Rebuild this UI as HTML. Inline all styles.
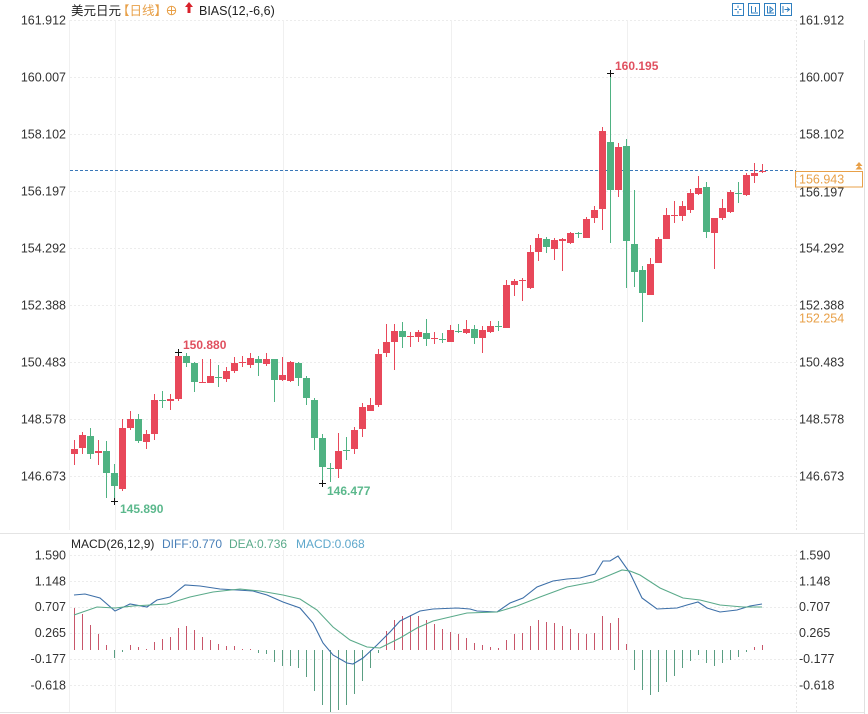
<!DOCTYPE html>
<html><head><meta charset="utf-8"><style>
html,body{margin:0;padding:0;background:#fff;}
svg{display:block;font-family:"Liberation Sans","Noto Sans CJK SC",sans-serif;}
</style></head><body>
<svg width="868" height="714" viewBox="0 0 868 714" xmlns="http://www.w3.org/2000/svg">
<rect width="868" height="714" fill="#fff"/>
<!-- grid -->
<g stroke="#ececec" stroke-width="1" stroke-dasharray="2,2" fill="none">
<path d="M70 20.5H796M70 77.5H796M70 134.5H796M70 191.5H796M70 248.5H796M70 305.5H796M70 362.5H796M70 419.5H796M70 476.5H796"/>
<path d="M70 555.5H796M70 581.5H796M70 607.5H796M70 633.5H796M70 659.5H796M70 685.5H796"/>
</g>
<g stroke="#f0f0f0" stroke-width="1" fill="none">
<path d="M69.5 20V530M115.5 20V530M283.5 20V530M451.5 20V530M627.5 20V530"/>
<path d="M69.5 550V712M115.5 550V712M283.5 550V712M451.5 550V712M627.5 550V712"/>
</g>
<path d="M796.5 20V530M796.5 550V712" stroke="#e6e6e6" stroke-dasharray="2,2"/>
<path d="M0 533.5H864M0 712.5H864" stroke="#e4e4e4"/>
<path d="M864.5 40V714" stroke="#e0e0e0"/>

<!-- header -->
<text x="71" y="15" font-size="12.5" fill="#222">美元日元</text>
<text x="117" y="15" font-size="12.5" fill="#e8a048">【日线】</text>
<circle cx="171.5" cy="10.5" r="4.2" fill="none" stroke="#e8a048" stroke-width="1"/>
<path d="M167.3 10.5H175.7M171.5 6.3V14.7" stroke="#e8a048" stroke-width="1"/>
<path d="M189 2L185 7H187.5V13H190.5V7H193Z" fill="#d8202a"/>
<text x="199" y="15" font-size="12.5" fill="#222">BIAS(12,-6,6)</text>

<!-- top right icons -->
<g fill="none" stroke="#2f7fc0" stroke-width="1">
<rect x="732.5" y="3.5" width="11" height="12"/>
<rect x="748.5" y="3.5" width="11" height="12"/>
<rect x="764.5" y="3.5" width="11" height="12"/>
<rect x="780.5" y="3.5" width="11" height="12"/>
<path d="M738 5.5V8M738 11V13.5M734.5 9.5H737M739 9.5H741.5"/>
<path d="M751.5 6V13H758M751.5 13V6M755.5 7V12"/>
<path d="M767.5 6V13H774M770 7V12L773 9.5Z"/>
<path d="M783 6V13M784.5 9.5H789M787 7.5L789.5 9.5L787 11.5"/>
</g>

<!-- axis labels main -->
<g font-size="12.5" fill="#333" text-anchor="end">
<text x="66" y="24.5">161.912</text>
<text x="66" y="81.5">160.007</text>
<text x="66" y="138.5">158.102</text>
<text x="66" y="195.5">156.197</text>
<text x="66" y="252.5">154.292</text>
<text x="66" y="309.5">152.388</text>
<text x="66" y="366.5">150.483</text>
<text x="66" y="423.5">148.578</text>
<text x="66" y="480.5">146.673</text>
</g>
<g font-size="12.5" fill="#333">
<text x="799" y="24.5">161.912</text>
<text x="799" y="81.5">160.007</text>
<text x="799" y="138.5">158.102</text>
<text x="799" y="196.5">156.197</text>
<text x="799" y="252.5">154.292</text>
<text x="799" y="309.5">152.388</text>
<text x="799" y="366.5">150.483</text>
<text x="799" y="423.5">148.578</text>
<text x="799" y="480.5">146.673</text>
</g>

<!-- current price line -->
<path d="M70 170.5H796" stroke="#3a78b8" stroke-width="1" stroke-dasharray="3,2"/>
<rect x="795.5" y="171.5" width="67" height="15.5" fill="none" stroke="#e8a048" stroke-width="1"/>
<text x="799" y="183.5" font-size="12.5" fill="#e8a048">156.943</text>
<path d="M859 162L855.5 166H862.5ZM859 165.5L855.5 169.5H862.5Z" fill="#e8a048"/>
<text x="799" y="322.5" font-size="12.5" fill="#e8a048">152.254</text>

<!-- candles: red -->
<path fill="none" stroke="#e8485a" stroke-width="1" d="M74.5 440V465M82.5 432V454M98.5 440V465M122.5 419V491M130.5 411V430M146.5 430V449M154.5 394V440M170.5 394V410M178.5 352V401M202.5 359V383M210.5 359V383M226.5 367V382M234.5 357V373M242.5 356V367M250.5 353V368M266.5 353V366M282.5 357V381M290.5 361V382M338.5 433V478M354.5 427V454M362.5 403V437M370.5 398V411M378.5 349V407M386.5 324V357M394.5 324V370M410.5 332V347M418.5 330V342M434.5 332V344M450.5 325V342M466.5 320V334M482.5 326V353M490.5 321V333M506.5 280V328M514.5 279V296M522.5 278V301M530.5 245V289M538.5 234V261M554.5 238V260M562.5 238V271M570.5 232V244M586.5 217V238M594.5 206V223M602.5 127V230M618.5 143V197M650.5 258V295M658.5 237V263M666.5 208V239M674.5 201V223M682.5 201V221M690.5 189V213M698.5 176V195M714.5 218V269M722.5 199V220M730.5 190V213M746.5 173V196M754.5 163V183M762.5 164V173"/>
<path fill="#e8485a" d="M71 449h7v5h-7zM79 435h7v13h-7zM95 451h7v2h-7zM119 428h7v61h-7zM127 419h7v9h-7zM143 434h7v8h-7zM151 400h7v34h-7zM167 399h7v2h-7zM175 356h7v43h-7zM199 382h7v1h-7zM207 376h7v7h-7zM223 371h7v8h-7zM231 363h7v8h-7zM239 362h7v1h-7zM247 358h7v7h-7zM263 359h7v5h-7zM279 375h7v5h-7zM287 362h7v19h-7zM335 451h7v18h-7zM351 430h7v19h-7zM359 407h7v22h-7zM367 405h7v6h-7zM375 354h7v51h-7zM383 342h7v11h-7zM391 331h7v11h-7zM407 336h7v1h-7zM415 332h7v5h-7zM431 338h7v1h-7zM447 330h7v12h-7zM463 329h7v4h-7zM479 330h7v8h-7zM487 326h7v6h-7zM503 285h7v43h-7zM511 281h7v4h-7zM519 280h7v1h-7zM527 252h7v36h-7zM535 238h7v14h-7zM551 240h7v9h-7zM559 239h7v2h-7zM567 233h7v10h-7zM583 219h7v19h-7zM591 210h7v8h-7zM599 131h7v78h-7zM615 147h7v43h-7zM647 264h7v31h-7zM655 239h7v24h-7zM663 215h7v24h-7zM671 215h7v1h-7zM679 206h7v10h-7zM687 193h7v17h-7zM695 188h7v6h-7zM711 218h7v15h-7zM719 208h7v10h-7zM727 192h7v20h-7zM743 175h7v20h-7zM751 173h7v3h-7zM759 171h7v1h-7z"/>
<!-- candles: green -->
<path fill="none" stroke="#4fb282" stroke-width="1" d="M90.5 428V459M106.5 441V498M114.5 464V501M138.5 414V443M162.5 391V408M186.5 353V367M194.5 362V392M218.5 365V387M258.5 356V376M274.5 359V402M298.5 362V386M306.5 376V405M314.5 398V450M322.5 434V483M330.5 463V482M346.5 437V460M402.5 322V348M426.5 319V346M442.5 333V343M458.5 324V333M474.5 325V344M498.5 321V331M546.5 237V253M578.5 232V238M610.5 73V243M626.5 139V288M634.5 190V287M642.5 266V322M706.5 182V238M738.5 182V203"/>
<path fill="#4fb282" d="M87 436h7v18h-7zM103 451h7v22h-7zM111 473h7v13h-7zM135 419h7v22h-7zM159 400h7v1h-7zM183 356h7v7h-7zM191 363h7v19h-7zM215 377h7v1h-7zM255 359h7v4h-7zM271 359h7v21h-7zM295 363h7v15h-7zM303 378h7v20h-7zM311 400h7v38h-7zM319 438h7v29h-7zM327 468h7v1h-7zM343 450h7v1h-7zM399 331h7v6h-7zM423 333h7v6h-7zM439 339h7v1h-7zM455 331h7v1h-7zM471 329h7v9h-7zM495 326h7v1h-7zM543 239h7v8h-7zM575 233h7v1h-7zM607 142h7v48h-7zM623 146h7v95h-7zM631 244h7v28h-7zM639 270h7v23h-7zM703 187h7v45h-7zM735 193h7v1h-7z"/>

<!-- markers -->
<path stroke="#111" stroke-width="1" fill="none" d="M175 352.5H182M178.5 349V356M111 501.5H118M114.5 498V505M319 483.5H326M322.5 480V487M607 73.5H614M610.5 70V77"/>
<g font-size="12" font-weight="bold">
<text x="183" y="349" fill="#e0505f">150.880</text>
<text x="120" y="513" fill="#5bb88c">145.890</text>
<text x="327" y="495" fill="#5bb88c">146.477</text>
<text x="615" y="70" fill="#e0505f">160.195</text>
</g>

<!-- MACD header -->
<g font-size="12">
<text x="71" y="548" fill="#222">MACD(26,12,9)</text>
<text x="162" y="548" fill="#4a80b8">DIFF:0.770</text>
<text x="229" y="548" fill="#5aaa8a">DEA:0.736</text>
<text x="296" y="548" fill="#5fa8cc">MACD:0.068</text>
</g>
<g font-size="12.5" fill="#333" text-anchor="end">
<text x="66" y="559.5">1.590</text>
<text x="66" y="585.5">1.148</text>
<text x="66" y="611">0.707</text>
<text x="66" y="637">0.265</text>
<text x="66" y="663">-0.177</text>
<text x="66" y="689.5">-0.618</text>
</g>
<g font-size="12.5" fill="#333">
<text x="799" y="559.5">1.590</text>
<text x="799" y="585.5">1.148</text>
<text x="799" y="611">0.707</text>
<text x="799" y="637">0.265</text>
<text x="799" y="663">-0.177</text>
<text x="799" y="689.5">-0.618</text>
</g>

<!-- histogram -->
<path fill="none" stroke="#c8566a" stroke-width="1" d="M74.5 650V608M82.5 650V614M90.5 650V625M98.5 650V634M106.5 650V645M130.5 650V645M138.5 650V647M146.5 650V649M154.5 650V642M162.5 650V639M170.5 650V637M178.5 650V628M186.5 650V626M194.5 650V630M202.5 650V637M210.5 650V640M218.5 650V644M226.5 650V646M234.5 650V646M242.5 650V649M250.5 650V649M386.5 650V631M394.5 650V620M402.5 650V616M410.5 650V615M418.5 650V616M426.5 650V620M434.5 650V624M442.5 650V629M450.5 650V632M458.5 650V634M466.5 650V638M474.5 650V643M482.5 650V645M490.5 650V647M498.5 650V648M506.5 650V640M514.5 650V634M522.5 650V633M530.5 650V626M538.5 650V620M546.5 650V622M554.5 650V623M562.5 650V626M570.5 650V629M578.5 650V633M586.5 650V634M594.5 650V633M602.5 650V616M610.5 650V623M618.5 650V618M626.5 650V644M754.5 650V647M762.5 650V645"/>
<path fill="none" stroke="#5a9e82" stroke-width="1" d="M114.5 650V658M122.5 650V652M258.5 650V653M266.5 650V654M274.5 650V662M282.5 650V666M290.5 650V666M298.5 650V668M306.5 650V677M314.5 650V691M322.5 650V705M330.5 650V712M338.5 650V710M346.5 650V705M354.5 650V694M362.5 650V681M370.5 650V668M378.5 650V653M634.5 650V670M642.5 650V690M650.5 650V695M658.5 650V692M666.5 650V682M674.5 650V676M682.5 650V668M690.5 650V661M698.5 650V655M706.5 650V663M714.5 650V666M722.5 650V663M730.5 650V660M738.5 650V657M746.5 650V652"/>

<!-- DIFF / DEA -->
<polyline fill="none" stroke="#3d6fa8" stroke-width="1.1" points="74,595 85,594 100,598 115,611 130,604 147,607 157,600 170,597 185,585 200,586 220,589 237,590 253,591 267,595 283,602 300,608 313,623 323,643 333,655 347,663 353,664 363,658 377,645 390,632 400,621 420,611 433,609 457,608 470,609 477,611 497,612 510,603 523,598 537,587 553,581 567,579 580,578 595,574 603,561 610,561 618,556 630,573 642,598 657,609 677,608 687,605 698,602 707,608 720,612 737,610 750,606 762,604"/>
<polyline fill="none" stroke="#5aaa8a" stroke-width="1.1" points="74,615 97,607 115,608 133,606 167,604 190,597 213,592 240,589 260,591 283,595 300,599 317,610 333,627 350,640 367,647 380,648 400,638 417,628 433,621 450,617 467,613 497,612 517,606 540,597 567,587 593,582 610,575 622,570 630,571 640,575 660,588 683,598 700,600 720,605 743,607 762,607"/>
</svg>
</body></html>
